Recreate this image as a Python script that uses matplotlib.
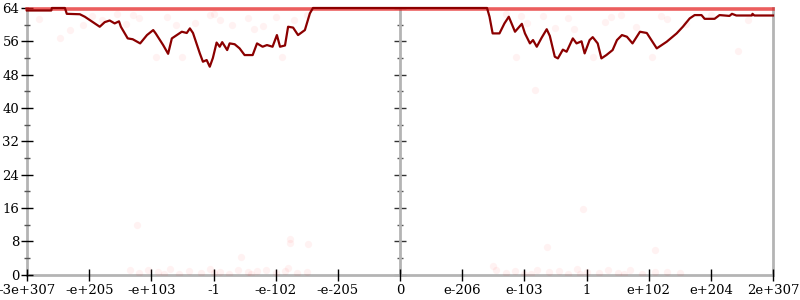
import matplotlib
matplotlib.use("Agg")
import matplotlib.pyplot as plt
from matplotlib.ticker import MultipleLocator

# -----------------------------
# DATA
# -----------------------------
tick_labels = ["-3e+307", "-e+205", "-e+103", "-1", "-e-102", "-e-205", "0",
               "e-206", "e-103", "1", "e+102", "e+204", "2e+307"]

line_x = [0.0, 0.39, 0.40, 0.61, 0.64, 0.85, 0.93, 1.01, 1.17, 1.25, 1.33, 1.41,
          1.48, 1.51, 1.62, 1.70, 1.82, 1.93, 2.03, 2.07, 2.19, 2.27, 2.33, 2.41,
          2.49, 2.57, 2.62, 2.67, 2.78, 2.83, 2.89, 2.94, 2.99, 3.05, 3.10, 3.14,
          3.22, 3.26, 3.34, 3.42, 3.50, 3.63, 3.70, 3.79, 3.86, 3.95, 4.02, 4.07,
          4.15, 4.20, 4.28, 4.36, 4.47, 4.55, 4.60,
          7.40, 7.44, 7.49, 7.60, 7.68, 7.75, 7.85, 7.96, 8.01, 8.09, 8.14, 8.20,
          8.28, 8.36, 8.41, 8.49, 8.54, 8.62, 8.68, 8.78, 8.84, 8.92, 8.97, 9.05,
          9.10, 9.18, 9.24, 9.32, 9.42, 9.49, 9.57, 9.65, 9.74, 9.86, 9.97, 10.13,
          10.29, 10.45, 10.55, 10.66, 10.74, 10.85, 10.90, 11.06, 11.14, 11.30,
          11.34, 11.41, 11.66, 11.67, 11.70, 12.0]
line_y = [63.4, 63.4, 64.0, 64.0, 62.6, 62.5, 61.9, 61.1, 59.5, 60.6, 61.0, 60.3,
          60.8, 59.5, 56.7, 56.5, 55.5, 57.5, 58.7, 57.9, 55.1, 53.0, 56.7, 57.5,
          58.3, 58.0, 59.1, 58.0, 53.1, 51.1, 51.5, 49.9, 52.0, 55.7, 54.7, 55.8,
          53.9, 55.5, 55.3, 54.3, 52.7, 52.7, 55.5, 54.7, 55.1, 54.7, 57.5, 54.7,
          55.0, 59.5, 59.3, 57.5, 58.7, 62.7, 64.0,
          64.0, 61.9, 57.9, 57.9, 60.3, 61.9, 58.3, 60.2, 57.9, 55.5, 56.3, 54.7,
          56.9, 58.9, 57.3, 52.3, 51.9, 54.0, 53.5, 56.7, 55.5, 56.0, 53.1, 56.3,
          57.0, 55.5, 51.9, 52.7, 53.9, 56.3, 57.5, 57.1, 55.5, 58.3, 58.0, 54.3,
          55.9, 57.9, 59.5, 61.5, 62.3, 62.3, 61.4, 61.4, 62.3, 62.1,
          62.6, 62.2, 62.2, 62.6, 62.2, 62.2]

# saturated band of points sitting on the 64 limit
band_x = [0.0, 12.0]
band_y = [63.8, 63.8]

# faint sample points
pts_x = [0.20, 0.53, 0.69, 1.05, 1.20, 1.45, 1.60, 1.80, 2.08, 2.25, 2.50, 2.70,
         2.95, 3.10, 3.30, 3.55, 3.80, 4.10, 4.30, 4.50, 0.90, 1.70, 2.40, 3.00,
         3.65, 4.00, 7.70, 7.87, 8.05, 8.17, 8.30, 8.50, 8.70, 9.10, 9.30, 9.55,
         9.80, 10.05, 10.30, 10.60, 11.00, 11.43, 11.60, 7.95, 8.80, 9.40, 10.20,
         1.77, 4.23, 4.23, 4.52, 3.45, 8.94, 8.36, 10.10, 7.50,
         1.65, 1.80, 1.95, 2.10, 2.30, 2.45, 2.60, 2.80, 2.95, 3.10, 3.25, 3.40,
         3.55, 3.70, 3.85, 4.00, 4.15, 4.35, 4.50, 2.20, 3.00, 3.60, 4.20,
         7.55, 7.70, 7.85, 8.00, 8.20, 8.40, 8.55, 8.70, 8.85, 9.00, 9.20, 9.35,
         9.50, 9.70, 9.90, 10.10, 10.30, 10.50, 8.10, 8.90, 9.60]
pts_y = [61.4, 56.8, 58.7, 62.0, 61.0, 62.5, 60.2, 61.5, 52.2, 61.8, 52.2, 60.5,
         62.2, 61.0, 60.0, 61.7, 59.6, 52.2, 61.2, 62.4, 60.0, 62.3, 59.8, 62.6,
         59.0, 61.9, 62.5, 52.2, 60.4, 44.3, 62.0, 59.3, 61.5, 52.2, 60.6, 62.3,
         59.5, 52.2, 61.4, 60.2, 62.4, 53.6, 61.0, 62.1, 59.0, 61.8, 62.0,
         11.9, 8.5, 7.5, 7.3, 4.2, 15.7, 6.6, 5.9, 2.0,
         1.2, 0.3, 1.0, 0.5, 1.4, 0.2, 0.9, 0.4, 1.3, 0.6, 0.2, 1.1,
         0.5, 0.9, 1.2, 0.3, 0.8, 0.4, 0.6, 0.1, 0.3, 0.1, 1.5,
         1.0, 0.3, 0.8, 0.2, 1.1, 0.5, 0.9, 0.2, 1.4, 0.6, 0.3, 1.0,
         0.4, 1.2, 0.2, 0.7, 0.5, 0.3, 0.1, 0.2, 0.1]

# -----------------------------
# PLOT
# -----------------------------
plt.rcParams["font.family"] = "DejaVu Serif"

fig = plt.figure(figsize=(8, 3), dpi=100)
ax = fig.add_axes([27 / 800, 1 - 274.5 / 300, 746 / 800, 266.5 / 300])

ax.scatter(pts_x, pts_y, s=28, color="#ff0000", alpha=0.05, linewidths=0, zorder=2)
ax.plot(band_x, band_y, color="#e31a1a", lw=2.6, alpha=0.7, zorder=3,
        clip_on=False)
ax.plot(line_x, line_y, color="#8b0000", lw=1.6, zorder=4, clip_on=False)

ax.set_xlim(0, 12)
ax.set_ylim(0, 64)
ax.set_xticks(range(len(tick_labels)))
ax.set_xticklabels(tick_labels)
ax.yaxis.set_major_locator(MultipleLocator(8))
ax.yaxis.set_minor_locator(MultipleLocator(4))

for side in ["left", "right", "bottom"]:
    ax.spines[side].set_color("#b4b4b4")
    ax.spines[side].set_linewidth(2)
    ax.spines[side].set_zorder(1)
ax.spines["top"].set_visible(False)

ax.yaxis.set_ticks_position("both")
ax.tick_params(axis="both", which="major", direction="inout", length=9,
               width=1, color="black", labelsize=9.5, pad=1)
ax.tick_params(axis="y", which="minor", direction="inout", length=5,
               width=1, color="#555555")
ax.tick_params(axis="y", labelright=False)
ax.tick_params(axis="x", pad=2)

# gray axis through the centre (x = 0) with its own ticks
ax2 = ax.twinx()
ax2.set_ylim(0, 64)
ax2.yaxis.set_major_locator(MultipleLocator(8))
ax2.yaxis.set_minor_locator(MultipleLocator(4))
for side in ["left", "top", "bottom"]:
    ax2.spines[side].set_visible(False)
ax2.spines["right"].set_position(("axes", 0.5))
ax2.spines["right"].set_color("#b4b4b4")
ax2.spines["right"].set_linewidth(2)
ax2.tick_params(axis="y", which="major", direction="inout", length=9,
                width=1, color="#333333", labelright=False)
ax2.tick_params(axis="y", which="minor", direction="inout", length=5,
                width=1, color="#555555")
ax2.set_zorder(0)
ax.set_zorder(1)
ax.patch.set_visible(False)

fig.savefig("out.png", dpi=100)
